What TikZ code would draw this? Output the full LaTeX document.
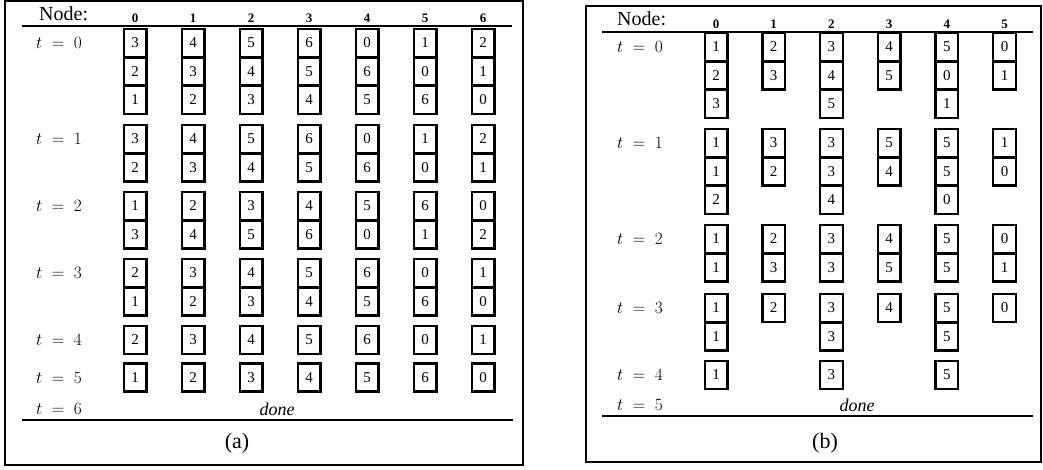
\documentclass[tikz,border=0pt]{standalone}
\usepackage{fontspec}
\setmainfont{Liberation Serif}
\begin{document}
\begin{tikzpicture}[x=1pt,y=-1pt,
  cell/.style={draw,line width=2.4pt,minimum width=22.6pt,minimum height=28.1pt,inner sep=0pt,font=\fontsize{15}{15}\selectfont},
  frame/.style={line width=2.2pt},
  rulez/.style={line width=1.6pt},
  tlab/.style={anchor=west,inner sep=0pt,font=\fontsize{16.5}{18}\selectfont},
  colhead/.style={inner sep=0pt,font=\bfseries\fontsize{13}{13}\selectfont},
  nodehead/.style={anchor=west,inner sep=0pt,font=\fontsize{20}{20}\selectfont},
  donelab/.style={inner sep=0pt,font=\itshape\fontsize{18}{18}\selectfont},
  caplab/.style={inner sep=0pt,font=\fontsize{22}{22}\selectfont}]
\useasboundingbox (0,0) rectangle (1043,469);
% ---------------- panel (a) ----------------
\draw[frame] (5,1) rectangle (523,465);
\node[nodehead] (aNode) at (39,14) {Node:};
\foreach \c in {0,...,6} {\node[colhead] (ah\c) at ({135+58*\c},18) {\c};}
\coordinate (aR1l) at (22,26); \coordinate (aR1r) at (512,26);
\draw[rulez] (aR1l) -- (aR1r);
% t=0
\foreach \c/\vals in {0/{3,2,1},1/{4,3,2},2/{5,4,3},3/{6,5,4},4/{0,6,5},5/{1,0,6},6/{2,1,0}}
  {\foreach \v [count=\i from 0] in \vals {\node[cell] (a0-\c-\i) at ({135+58*\c},{43+28.5*\i}) {\v};}}
% t=1
\foreach \c/\vals in {0/{3,2},1/{4,3},2/{5,4},3/{6,5},4/{0,6},5/{1,0},6/{2,1}}
  {\foreach \v [count=\i from 0] in \vals {\node[cell] (a1-\c-\i) at ({135+58*\c},{139+28.5*\i}) {\v};}}
% t=2
\foreach \c/\vals in {0/{1,3},1/{2,4},2/{3,5},3/{4,6},4/{5,0},5/{6,1},6/{0,2}}
  {\foreach \v [count=\i from 0] in \vals {\node[cell] (a2-\c-\i) at ({135+58*\c},{206+28.5*\i}) {\v};}}
% t=3
\foreach \c/\vals in {0/{2,1},1/{3,2},2/{4,3},3/{5,4},4/{6,5},5/{0,6},6/{1,0}}
  {\foreach \v [count=\i from 0] in \vals {\node[cell] (a3-\c-\i) at ({135+58*\c},{273+28.5*\i}) {\v};}}
% t=4
\foreach \c/\v in {0/2,1/3,2/4,3/5,4/6,5/0,6/1}
  {\node[cell] (a4-\c) at ({135+58*\c},340) {\v};}
% t=5
\foreach \c/\v in {0/1,1/2,2/3,3/4,4/5,5/6,6/0}
  {\node[cell] (a5-\c) at ({135+58*\c},377.5) {\v};}
\node[tlab] (at0) at (36,43) {$t\;=\;0$};
\node[tlab] (at1) at (36,139) {$t\;=\;1$};
\node[tlab] (at2) at (36,206) {$t\;=\;2$};
\node[tlab] (at3) at (36,273) {$t\;=\;3$};
\node[tlab] (at4) at (36,340) {$t\;=\;4$};
\node[tlab] (at5) at (36,377.5) {$t\;=\;5$};
\node[tlab] (at6) at (36,409) {$t\;=\;6$};
\node[donelab] (adone) at (277,409) {done};
\coordinate (aR2l) at (22,420); \coordinate (aR2r) at (513,420);
\draw[rulez] (aR2l) -- (aR2r);
\node[caplab] (acap) at (237,443) {(a)};
% ---------------- panel (b) ----------------
\draw[frame] (586,6) rectangle (1041,462);
\node[nodehead] (bNode) at (617,19) {Node:};
\foreach \c in {0,...,5} {\node[colhead] (bh\c) at ({716+57.7*\c},24) {\c};}
\coordinate (bR1l) at (602,32); \coordinate (bR1r) at (1033,32);
\draw[rulez] (bR1l) -- (bR1r);
% t=0
\foreach \c/\vals in {0/{1,2,3},1/{2,3},2/{3,4,5},3/{4,5},4/{5,0,1},5/{0,1}}
  {\foreach \v [count=\i from 0] in \vals {\node[cell] (b0-\c-\i) at ({716+57.7*\c},{47+28.5*\i}) {\v};}}
% t=1
\foreach \c/\vals in {0/{1,1,2},1/{3,2},2/{3,3,4},3/{5,4},4/{5,5,0},5/{1,0}}
  {\foreach \v [count=\i from 0] in \vals {\node[cell] (b1-\c-\i) at ({716+57.7*\c},{143+28.5*\i}) {\v};}}
% t=2
\foreach \c/\vals in {0/{1,1},1/{2,3},2/{3,3},3/{4,5},4/{5,5},5/{0,1}}
  {\foreach \v [count=\i from 0] in \vals {\node[cell] (b2-\c-\i) at ({716+57.7*\c},{239+28.5*\i}) {\v};}}
% t=3
\foreach \c/\vals in {0/{1,1},1/{2},2/{3,3},3/{4},4/{5,5},5/{0}}
  {\foreach \v [count=\i from 0] in \vals {\node[cell] (b3-\c-\i) at ({716+57.7*\c},{308+28.5*\i}) {\v};}}
% t=4
\foreach \c/\v in {0/1,2/3,4/5}
  {\node[cell] (b4-\c) at ({716+57.7*\c},375) {\v};}
\node[tlab] (bt0) at (617,47) {$t\;=\;0$};
\node[tlab] (bt1) at (617,143) {$t\;=\;1$};
\node[tlab] (bt2) at (617,239) {$t\;=\;2$};
\node[tlab] (bt3) at (617,308) {$t\;=\;3$};
\node[tlab] (bt4) at (617,375) {$t\;=\;4$};
\node[tlab] (bt5) at (617,405) {$t\;=\;5$};
\node[donelab] (bdone) at (857,405) {done};
\coordinate (bR2l) at (602,416); \coordinate (bR2r) at (1033,416);
\draw[rulez] (bR2l) -- (bR2r);
\node[caplab] (bcap) at (825,443) {(b)};
\end{tikzpicture}
\end{document}
